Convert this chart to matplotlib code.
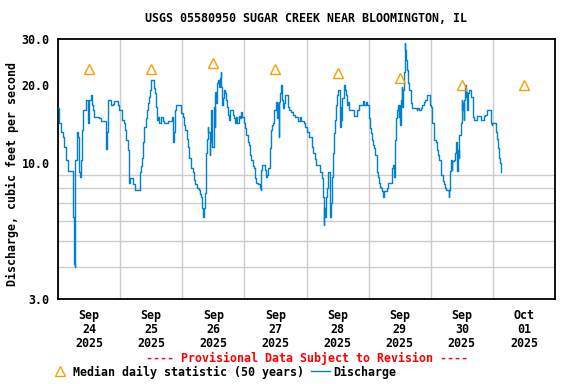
import numpy as np
import matplotlib
matplotlib.use("Agg")
import matplotlib.pyplot as plt
import matplotlib.dates as mdates
from matplotlib.lines import Line2D
from matplotlib.ticker import FixedLocator, NullFormatter, FixedFormatter

plt.rcParams['font.family'] = ['DejaVu Sans Mono']
plt.rcParams['font.weight'] = 'bold'

title = "USGS 05580950 SUGAR CREEK NEAR BLOOMINGTON, IL"
ylabel = "Discharge, cubic feet per second"
start = "2025-09-24T00:00"

# Hours after Sep 24 00:00 and discharge (cfs)
hours = [0.0, 0.5, 1.2, 2.1, 2.4, 3.1, 3.7, 4.0, 5.7, 5.9, 6.3, 6.6, 6.7, 7.2, 7.9, 8.3, 8.6, 8.9, 9.3, 9.5,
         10.8, 11.5, 11.9, 12.1, 12.6, 13.2, 13.7, 14.1, 16.0, 16.6, 18.7, 18.9, 19.2, 19.5, 20.5, 21.4, 21.8,
         23.3, 23.7,
         24.8, 25.4, 25.9, 26.3, 27.0, 27.4, 27.6, 27.8, 28.9, 29.8, 31.5, 32.1, 32.5, 33.0, 33.4, 34.1, 34.4,
         34.9, 35.3, 35.7, 36.0, 36.9, 37.3, 37.7, 37.9, 38.3, 38.5, 39.2, 39.9, 40.5, 41.1, 41.8, 42.5, 44.1,
         44.4, 44.8, 45.2, 45.7, 47.6,
         48.3, 48.8, 49.2, 49.8, 50.3, 50.7, 51.4, 52.0, 52.4, 53.0, 53.7, 54.3, 55.0, 55.3, 55.6, 56.0, 56.2,
         56.5, 56.9, 57.0, 57.5, 57.8, 58.1, 58.6, 58.8, 59.0, 59.4, 59.6, 60.2, 60.5, 60.8, 61.0, 61.4, 61.8,
         62.2, 62.6, 62.8, 63.1, 63.4, 63.7, 64.0, 64.4, 64.9, 65.3, 65.7, 66.2, 66.6, 67.5, 67.9, 68.3, 68.6,
         69.2, 69.8, 70.5, 70.8, 71.2, 71.7,
         72.1, 72.6, 73.4, 73.9, 74.3, 74.7, 75.2, 75.6, 76.0, 76.6, 77.3, 77.9, 78.3, 78.6, 79.0, 79.8, 80.3,
         80.6, 81.2, 81.8, 82.3, 82.7, 83.1, 83.6, 84.2, 84.6, 85.0, 85.3, 85.5, 85.9, 86.3, 86.6, 86.9, 87.2,
         87.6, 88.9, 89.4, 90.2, 90.8, 91.4, 92.6, 93.4, 93.9, 94.9, 95.6,
         96.3, 96.8, 98.2, 98.7, 99.1, 99.7, 101.3, 102.1, 102.4, 102.7, 102.9, 103.3, 103.6, 104.0, 104.2,
         105.0, 105.2, 105.5, 105.8, 106.1, 106.5, 107.0, 107.5, 107.9, 108.2, 108.9, 109.2, 109.4, 109.8,
         110.3, 110.7, 111.1, 111.6, 112.0, 112.4, 114.3, 115.5, 116.2, 118.0, 118.4, 118.8, 119.3,
         120.0, 120.4, 120.8, 121.3, 121.7, 122.1, 122.6, 123.1, 123.4, 123.7, 124.0, 124.5, 124.9, 125.3,
         125.6, 125.8, 127.2, 127.5, 129.0, 129.4, 129.8, 130.1, 130.4, 130.6, 131.0, 131.4, 131.6, 131.9,
         132.2, 132.5, 132.8, 133.0, 133.3, 133.6, 133.9, 134.2, 134.4, 134.7, 135.1, 135.6, 136.5, 136.9,
         138.5, 138.8, 139.5, 140.1, 140.6, 141.3, 141.9, 142.5, 143.6,
         143.9, 144.2, 144.5, 145.0, 145.4, 145.9, 146.3, 146.8, 147.3, 147.9, 148.0, 148.6, 149.0, 149.4,
         149.7, 151.0, 151.2, 151.5, 151.9, 152.1, 152.4, 152.8, 153.2, 153.6, 153.9, 154.3, 154.5, 154.8,
         155.1, 155.5, 155.9, 156.1, 156.4, 156.7, 157.0, 157.3, 157.5, 157.8, 158.1, 158.3, 158.7, 159.7,
         160.3, 160.5, 160.9, 161.9, 163.5, 164.5, 165.1, 165.6, 167.3, 167.5, 167.8, 169.0, 169.4, 169.6,
         170.0, 170.4, 170.8, 171.2]
flow = [16.3, 14.3, 13.2, 12.6, 11.5, 10.3, 10.0, 9.3, 7.9, 6.2, 4.1, 4.0, 10.3, 13.2, 12.6, 9.2, 8.8, 10.3, 13.4, 16.0,
        17.5, 14.3, 16.0, 17.5, 18.3, 16.7, 16.0, 15.0, 14.9, 14.5, 11.3, 13.2, 16.3, 17.5, 16.7, 16.9, 17.3,
        16.7, 16.0,
        14.6, 14.2, 13.4, 12.3, 11.2, 8.8, 8.4, 8.75, 8.3, 7.85, 9.2, 9.7, 10.5, 12.0, 13.8, 14.9, 16.0,
        17.0, 17.9, 19.1, 20.9, 19.4, 18.6, 17.5, 16.4, 14.6, 15.0, 14.3, 15.0, 14.5, 14.3, 14.2, 14.5, 15.0,
        12.0, 13.2, 16.0, 16.7, 15.6,
        15.0, 14.0, 13.4, 12.4, 11.5, 10.5, 9.6, 9.2, 8.6, 8.3, 8.0, 7.85, 7.6, 7.4, 6.7, 6.5, 6.2,
        6.7, 7.7, 10.9, 12.4, 13.8, 13.2, 10.7, 12.0, 16.0, 14.2, 11.5, 16.4, 13.8, 18.8, 17.0, 20.4, 20.9,
        19.6, 21.2, 22.4, 19.6, 16.7, 17.8, 19.1, 18.6, 17.5, 16.4, 15.3, 14.6, 16.0, 15.3, 14.9, 14.3, 15.0,
        14.3, 15.2, 14.9, 15.7, 15.0, 14.3,
        13.6, 12.8, 12.1, 11.7, 10.7, 10.3, 9.7, 9.6, 8.75, 8.4, 8.3, 8.0, 7.85, 9.4, 9.8, 9.4, 8.8,
        9.0, 9.6, 11.4, 13.4, 14.0, 14.3, 16.0, 17.2, 14.9, 17.0, 12.6, 17.2, 18.6, 20.0, 17.5, 16.3, 17.0,
        18.3, 16.4, 16.0, 15.7, 15.3, 15.0, 14.5, 15.0, 14.5, 14.2, 13.8,
        13.2, 12.6, 11.5, 10.9, 10.4, 9.8, 9.2, 8.75, 7.4, 5.8, 6.7, 6.2, 7.4, 8.0, 9.2,
        7.8, 6.2, 7.0, 8.8, 10.9, 13.0, 14.6, 16.7, 18.3, 19.1, 13.8, 16.4, 14.6, 17.8,
        20.0, 19.1, 18.3, 16.7, 17.2, 16.0, 15.2, 16.0, 16.7, 17.3, 16.7, 17.2, 16.7,
        14.9, 13.6, 13.0, 12.3, 11.7, 11.4, 10.7, 10.0, 9.2, 8.8, 8.4, 8.1, 8.0, 7.8,
        7.4, 7.8, 8.0, 8.4, 9.6, 9.8, 8.8, 12.3, 13.8, 14.9, 16.0, 16.7, 15.0, 16.7,
        14.0, 17.5, 19.6, 16.4, 19.1, 22.4, 29.0, 27.2, 24.9, 22.8, 20.4, 19.1, 17.0, 16.3,
        16.0, 16.3, 16.0, 16.3, 16.7, 17.2, 17.5, 18.3, 17.5,
        16.7, 16.4, 14.3, 14.2, 12.3, 12.0, 11.2, 10.7, 10.3, 10.0, 9.0, 8.5, 8.3, 8.0,
        7.85, 7.4, 7.9, 9.3, 10.3, 9.4, 10.2, 10.3, 10.9, 11.4, 12.0, 9.3, 11.2, 10.5,
        12.8, 14.3, 17.5, 16.0, 17.0, 14.6, 17.5, 20.0, 17.9, 18.8, 16.0, 18.6, 19.1, 17.9,
        17.0, 15.0, 14.6, 15.2, 14.6, 15.2, 15.3, 16.0, 14.3, 14.0, 14.3, 14.2, 13.2, 12.4,
        11.4, 10.5, 10.0, 9.2]

median_days = ["2025-09-24T12:00", "2025-09-25T12:00", "2025-09-26T12:00", "2025-09-27T12:00",
               "2025-09-28T12:00", "2025-09-29T12:00", "2025-09-30T12:00", "2025-10-01T12:00"]
median_vals = [23.0, 23.0, 24.3, 23.0, 22.2, 21.2, 20.0, 20.0]

ytick_vals = [3, 10, 20, 30]
ytick_labels = ["3.0", "10.0", "20.0", "30.0"]
ygrid_vals = [4, 5, 6, 7, 8, 9, 10, 20]

FS = 8.4

t0 = np.datetime64(start)
times = t0 + (np.array(hours) * 3600).astype('timedelta64[s]')
times = times.astype('datetime64[s]').astype(object)
mtimes = [np.datetime64(d).astype('datetime64[s]').astype(object) for d in median_days]

fig = plt.figure(figsize=(5.76, 3.84), dpi=100)
ax = fig.add_axes([58/576, 1-299/384, (555-58)/576, (299-39)/384])

ax.plot(times, flow, color='#0080d0', lw=1.0, drawstyle='steps-post', zorder=3)
ax.plot(mtimes, median_vals, linestyle='none', marker='^', markersize=7, markerfacecolor='none',
        markeredgecolor='#f5a000', markeredgewidth=1.0, zorder=4)

ax.set_yscale('log')
ax.set_ylim(3, 30)
ax.yaxis.set_major_locator(FixedLocator(ytick_vals))
ax.yaxis.set_major_formatter(FixedFormatter(ytick_labels))
ax.yaxis.set_minor_locator(FixedLocator(ygrid_vals))
ax.yaxis.set_minor_formatter(NullFormatter())

x0 = np.datetime64("2025-09-24T00:00").astype('datetime64[s]').astype(object)
x1 = np.datetime64("2025-10-02T00:00").astype('datetime64[s]').astype(object)
ax.set_xlim(x0, x1)
ax.xaxis.set_major_locator(mdates.HourLocator(byhour=[12]))
ax.xaxis.set_major_formatter(mdates.DateFormatter("%b\n%d\n%Y"))
ax.xaxis.set_minor_locator(mdates.DayLocator())

ax.grid(False)
ax.grid(True, which='minor', axis='both', color='#cccccc', lw=1.0)
ax.tick_params(which='both', length=0)
ax.tick_params(axis='x', which='major', pad=7, labelsize=FS)
ax.tick_params(axis='y', which='major', pad=6, labelsize=FS)
for lab in ax.get_xticklabels():
    lab.set_fontweight('bold')
    lab.set_linespacing(1.1)
for lab in ax.get_yticklabels():
    lab.set_fontweight('bold')
for s in ax.spines.values():
    s.set_linewidth(1.3)
    s.set_color('black')

fig.text(306/576, 1-19/384, title, ha='center', va='center', fontsize=FS, fontweight='bold')
fig.text(12/576, 1-174/384, ylabel, ha='center', va='center', rotation=90, fontsize=FS, fontweight='bold')
fig.text(307/576, 1-358/384, "---- Provisional Data Subject to Revision ----", ha='center', va='center',
         fontsize=FS, fontweight='bold', color='red')

h1 = Line2D([], [], linestyle='none', marker='^', markersize=7, markerfacecolor='none',
            markeredgecolor='#f5a000', markeredgewidth=1.0)
h2 = Line2D([], [], color='#0080d0', lw=1.0)
leg = fig.legend([h1, h2], ["Median daily statistic (50 years)", "Discharge"], loc='center left',
                 bbox_to_anchor=(51/576, 1-372/384), ncol=2, frameon=False, handlelength=1.6,
                 handletextpad=0.3, columnspacing=0.6, borderpad=0, borderaxespad=0,
                 prop={'family': 'DejaVu Sans Mono', 'weight': 'bold', 'size': FS})

fig.savefig("out.png", dpi=100)
